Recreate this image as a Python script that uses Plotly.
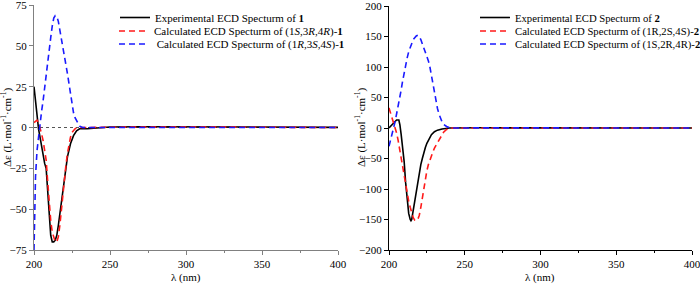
import plotly.graph_objects as go

# ---------------- Data ----------------
# Panel 1 (compound 1)
wl1_exp = [200, 201, 202, 203, 204, 205, 206, 207, 208, 209, 210, 211, 212, 213, 214, 215, 216, 217, 218, 219, 220, 221, 222, 224, 226, 228, 230, 235, 240, 250, 270, 300, 330, 360, 400]
exp1 = [25, 15, 6, -1, -6, -12, -18, -22, -25, -38, -55, -66, -70, -70, -69, -66, -60, -53, -45, -38, -31, -24, -18, -10, -5, -2, -0.8, -0.8, -0.3, 0.3, 0.5, 0.4, 0.3, 0.2, 0.1]

wl1_calc = [200, 201, 202, 203, 204, 205, 206, 207, 208, 209, 210, 211, 212, 213, 214, 215, 216, 217, 218, 219, 220, 221, 222, 223, 224, 225, 226, 227, 228, 229, 230, 232, 240, 260, 300, 350, 400]
calc1_a = [3, 4, 4.5, 3, 0, -4, -8, -13, -20, -33, -46, -57, -64, -68, -70, -70, -67, -60, -50, -40, -31, -23, -16, -10, -6, -3, -1.5, -0.8, -0.3, -0.1, 0, 0, 0.1, 0.2, 0.3, 0.1, 0]
calc1_b = [-75, -30, -14, -5, 4, 10, 16.5, 25, 33, 40, 47, 55, 62, 67, 68.5, 68, 65, 60, 54, 48, 43, 39, 33, 27, 20, 14, 9, 6, 4, 2, 0.8, 0, 0, 0.1, 0.2, 0.1, 0]

# Panel 2 (compound 2)
wl2_exp = [200, 202, 204, 205, 206.5, 207.2, 208, 209, 210, 211, 212, 213, 214, 214.5, 215, 216, 217, 218, 219, 220, 221, 222, 223, 224, 225, 226, 227, 228, 230, 232, 235, 238, 240, 260, 300, 350, 400]
exp2 = [0, 5, 10, 13, 13, 5, -10, -30, -55, -90, -120, -140, -150, -152, -150, -135, -118, -102, -86, -72, -60, -50, -40, -32, -25, -20, -16, -11, -6, -3.5, -1.5, -0.5, 0, 0.3, 0.5, 0.2, 0]

wl2_calc = [200, 201, 202, 203, 204, 205, 206, 207, 208, 209, 210, 211, 212, 213, 214, 215, 216, 217, 218, 219, 220, 221, 222, 223, 224, 225, 226, 227, 228, 229, 230, 231, 232, 233, 234, 235, 236, 238, 240, 242, 260, 300, 350, 400]
calc2_a = [33, 25, 17, 10, 2, -8, -20, -35, -50, -65, -80, -95, -108, -120, -130, -140, -147, -151, -152, -150, -143, -130, -115, -98, -80, -70, -60, -52, -45, -39, -33, -29, -25, -20, -15, -11, -7, -2.5, -0.5, 0, 0.2, 0.3, 0.1, 0]
calc2_b = [-30, -18, -8, 0, 10, 22, 35, 48, 62, 77, 92, 104, 115, 125, 133, 140, 145, 148, 151, 152, 150, 145, 138, 130, 124, 118, 110, 100, 85, 70, 56, 43, 32, 23, 16, 10, 6, 2.5, 0.5, 0, 0.2, 0.3, 0.1, 0]

names1 = ["Experimental ECD Specturm of <b>1</b>",
          "Calculated ECD Specturm of (1<i>S</i>,3<i>R</i>,4<i>R</i>)-<b>1</b>",
          "\u00a0Calculated ECD Specturm of (1<i>R</i>,3<i>S</i>,4<i>S</i>)-<b>1</b>"]
names2 = ["Experimental ECD Specturm of <b>2</b>",
          "Calculated ECD Specturm of (1R,2S,4S)-<b>2</b>",
          "Calculated ECD Specturm of (1S,2R,4R)-<b>2</b>"]

x_ticks = [200, 250, 300, 350, 400]
y1_ticks = [-75, -50, -25, 0, 25, 50, 75]
y2_ticks = [-200, -150, -100, -50, 0, 50, 100, 150, 200]
ZERO = 0

# ---------------- Figure ----------------
W, H = 700, 284
FONT = "Liberation Serif"
BLACK, RED, BLUE = "#000000", "#ff1a1a", "#1a1aff"
DASH = "6px,4px"

fig = go.Figure()

def px_x(p):
    return p / W

def px_y(p):
    return 1 - p / H

legend_rows = [17.5, 31, 44]

traces = [
    (wl1_exp, exp1, names1[0], BLACK, "solid", "x", "y", 0),
    (wl1_calc, calc1_a, names1[1], RED, DASH, "x", "y", 1),
    (wl1_calc, calc1_b, names1[2], BLUE, DASH, "x", "y", 2),
    (wl2_exp, exp2, names2[0], BLACK, "solid", "x2", "y2", 3),
    (wl2_calc, calc2_a, names2[1], RED, DASH, "x2", "y2", 4),
    (wl2_calc, calc2_b, names2[2], BLUE, DASH, "x2", "y2", 5),
]
for xs, ys, nm, col, dsh, xa, ya, k in traces:
    lname = "legend" if k == 0 else f"legend{k+1}"
    fig.add_trace(go.Scatter(x=xs, y=ys, mode="lines", name=nm, xaxis=xa, yaxis=ya,
                             line=dict(color=col, width=1.6, dash=dsh),
                             legend=lname, showlegend=True))

# text start positions (px) of the legend rows
legend_text_x = [155, 154, 154, 515, 515, 515]
legend_font = [11, 11, 11, 10.7, 10.7, 10.7]
layout_legends = {}
for k in range(6):
    lname = "legend" if k == 0 else f"legend{k+1}"
    layout_legends[lname] = dict(
        x=px_x(legend_text_x[k] - 40), y=px_y(legend_rows[k % 3]),
        xref="container", yref="container", xanchor="left", yanchor="middle",
        bgcolor="rgba(0,0,0,0)", borderwidth=0, itemwidth=30,
        font=dict(family=FONT, size=legend_font[k], color="black"), tracegroupgap=0,
    )

axis_common = dict(showgrid=False, zeroline=False, ticks="outside", ticklen=4, tickwidth=1,
                   tickfont=dict(family=FONT, size=11, color="black"), showline=True,
                   linewidth=1, automargin=False, mirror=False, ticklabeloverflow="allow")

fig.update_layout(
    width=W, height=H, margin=dict(l=0, r=0, t=0, b=0, autoexpand=False),
    paper_bgcolor="white", plot_bgcolor="white", showlegend=True,
    xaxis=dict(domain=[px_x(34), px_x(338)], range=[200, 400], tickvals=x_ticks,
               linecolor="#808080", tickcolor="#808080",
               minor=dict(ticks="outside", ticklen=2, dtick=25, tickcolor="#808080"),
               anchor="y", **axis_common),
    yaxis=dict(domain=[1 - 250 / H, 1 - 5 / H], range=[-75, 75], tickvals=y1_ticks,
               linecolor="#808080", tickcolor="#808080", anchor="x", **axis_common),
    xaxis2=dict(domain=[px_x(389), px_x(692)], range=[200, 400], tickvals=x_ticks,
                linecolor="black", tickcolor="black",
                minor=dict(ticks="outside", ticklen=2, dtick=25, tickcolor="black"),
                anchor="y2", **axis_common),
    yaxis2=dict(domain=[1 - 250 / H, 1 - 6 / H], range=[-200, 200], tickvals=y2_ticks,
                linecolor="black", tickcolor="black", anchor="x2", **axis_common),
    **layout_legends,
)

# dashed zero reference line in the left panel
fig.add_shape(type="line", xref="x domain", yref="y", x0=0, x1=1, y0=ZERO, y1=ZERO,
              line=dict(color="#555555", width=1, dash="3px,3px"), layer="below")

ytitle = "Δε (L·mol<sup>-1</sup>·cm<sup>-1</sup>)"
for xp in (7, 361):
    fig.add_annotation(text=ytitle, xref="paper", yref="paper", x=px_x(xp), y=px_y(127),
                       textangle=-90, showarrow=False, xanchor="center", yanchor="middle",
                       font=dict(family=FONT, size=11, color="black"))
for xp in (186, 540):
    fig.add_annotation(text="λ (nm)", xref="paper", yref="paper", x=px_x(xp), y=px_y(277),
                       showarrow=False, xanchor="center", yanchor="middle",
                       font=dict(family=FONT, size=11, color="black"))

fig.write_html("out.html", config={"displayModeBar": False},
               post_script="document.body.style.margin='0';document.body.style.overflow='hidden';")
